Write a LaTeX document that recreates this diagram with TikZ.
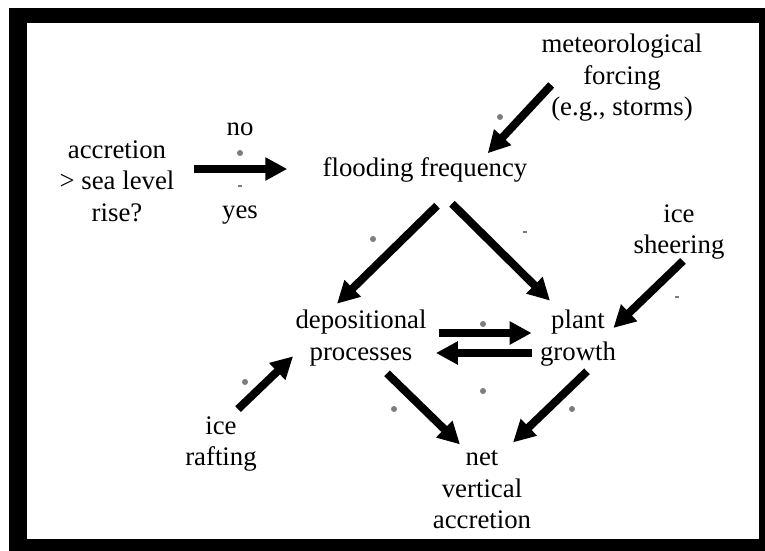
\documentclass[tikz,border=0pt]{standalone}
\usepackage{fontspec}
\setmainfont{Liberation Serif}
\usepackage{tikz}
\usetikzlibrary{positioning, arrows.meta, calc}
\definecolor{FrameColor}{RGB}{0,0,0}
\definecolor{SpeckColor}{RGB}{125,125,125}

\begin{document}
\begin{tikzpicture}[
    x=0.5pt, y=-0.5pt,
    every node/.style={font=\fontsize{13.4}{15.75}\selectfont, align=center, inner sep=0pt},
    flow/.style={line width=4pt, -{Triangle[length=11pt, width=11pt]}},
    speck/.style={fill=SpeckColor},
]
\useasboundingbox (0,0) rectangle (765,551);

% Frame (thick black border)
\fill[FrameColor] (9,8) rectangle (765,551);
\fill[white] (27,23) rectangle (759,539);

% Drivers
\node (met) at (622,78) {meteorological\\forcing\\(e.g., storms)};
\node (acc) at (117,181) {accretion\\> sea level\\rise?};
\node (no) at (240,129) {no};
\node (yes) at (240,215) {yes};
\node (sheer) at (679,232) {ice\\sheering};
\node (raft) at (221,444) {ice\\rafting};

% Processes
\node (flood) at (425,170) {flooding frequency};
\node (dep) at (361,338) {depositional\\processes};
\node (plant) at (578,338) {plant\\growth};
\node (net) at (482,490) {net\\vertical\\accretion};

% Arrows
\draw[flow] ($(acc.east)+(19,-12)$) -- ($(flood.west)+(-35,-1)$);
\draw[flow] ($(met.west)+(10,7)$) -- ($(flood.north east)+(-40,-4)$);
\draw[flow] ($(flood.south)+(12,23)$) -- ($(dep.north)+(-24,-6)$);
\draw[flow] ($(flood.south)+(27,21)$) -- ($(plant.north)+(-28,-9)$);
\draw[flow] ($(dep.east)+(12,-5)$) -- ($(plant.west)+(-8,-5)$);
\draw[flow] ($(plant.west)+(-8,15)$) -- ($(dep.east)+(9,15)$);
\draw[flow] ($(sheer.south)+(4,1)$) -- ($(plant.east)+(-3,-10)$);
\draw[flow] ($(raft.north)+(17,-7)$) -- ($(dep.south west)+(-2,-10)$);
\draw[flow] ($(dep.south)+(26,7)$) -- ($(net.north)+(-22,-6)$);
\draw[flow] ($(plant.south)+(9,5)$) -- ($(net.north)+(31,-8)$);

% Grey specks
\foreach \px/\py in {240/153, 500/117, 373/239, 483/324, 245/382, 394/409, 483/391, 572/409}
    \fill[speck] (\px,\py) circle (3);
\foreach \px/\py in {240/186, 525/232, 677/297}
    \draw[SpeckColor, line width=0.8pt] (\px-2,\py) -- (\px+2,\py);

\end{tikzpicture}
\end{document}
